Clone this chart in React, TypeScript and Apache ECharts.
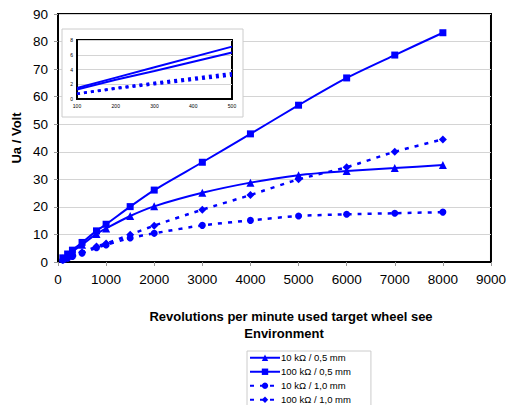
import React, { useEffect, useRef } from "react";
import * as echarts from "echarts";

const rpm = [100, 200, 300, 500, 800, 1000, 1500, 2000, 3000, 4000, 5000, 6000, 7000, 8000];
const r10k05 = [1.3, 2.6, 3.8, 6.3, 10.2, 12.2, 16.7, 20.2, 25.1, 28.8, 31.5, 33.0, 34.1, 35.2];
const r100k05 = [1.5, 2.9, 4.3, 7.1, 11.3, 13.7, 20.1, 26.1, 36.2, 46.5, 56.9, 66.8, 75.1, 83.2];
const r10k10 = [0.7, 1.4, 2.0, 3.2, 5.2, 6.2, 8.7, 10.4, 13.3, 15.1, 16.7, 17.3, 17.7, 18.1];
const r100k10 = [0.7, 1.5, 2.2, 3.5, 5.6, 6.7, 9.9, 13.2, 19.0, 24.3, 30.0, 34.4, 40.0, 44.5];

const seriesNames = ["10 kΩ / 0,5 mm", "100 kΩ / 0,5 mm", "10 kΩ / 1,0 mm", "100 kΩ / 1,0 mm"];
const seriesValues = [r10k05, r100k05, r10k10, r100k10];
const symbols = ["triangle", "rect", "circle", "diamond"];
const symbolSizes = [8, 7, 7, 8];
const dashed = [false, false, true, true];

const xTitle1 = "Revolutions per minute used target wheel see";
const xTitle2 = "Environment";
const yTitle = "Ua / Volt";

const BLUE = "#0000FF";
const FONT = "Liberation Sans, Arial, sans-serif";

const plain = (v: number) => String(v);

export default function App() {
  const ref = useRef<HTMLDivElement>(null);
  useEffect(() => {
    document.body.style.margin = "0";
    if (!ref.current) return;
    const chart = echarts.init(ref.current, undefined, { renderer: "svg" });

    const mainSeries = seriesNames.map((name, i) => ({
      name,
      type: "line",
      xAxisIndex: 0,
      yAxisIndex: 0,
      data: rpm.map((x, j) => [x, seriesValues[i][j]]),
      symbol: symbols[i],
      symbolSize: symbolSizes[i],
      smooth: 0.25,
      itemStyle: { color: BLUE },
      lineStyle: dashed[i]
        ? { color: BLUE, width: 2.5, type: [4, 6] }
        : { color: BLUE, width: 2 },
      z: 3,
    }));

    const insetSeries = seriesNames.map((name, i) => ({
      name: "inset " + name,
      type: "line",
      xAxisIndex: 1,
      yAxisIndex: 1,
      data: rpm
        .map((x, j) => [x, seriesValues[i][j]])
        .filter((p) => p[0] <= 500),
      symbol: "none",
      smooth: false,
      lineStyle: dashed[i]
        ? { color: BLUE, width: 2.5, type: [3, 4] }
        : { color: BLUE, width: 2 },
      z: 12,
    }));

    chart.setOption({
      animation: false,
      backgroundColor: "#fff",
      textStyle: { fontFamily: FONT },
      grid: [
        {
          left: 58,
          top: 14,
          right: 16,
          bottom: 143,
          show: true,
          borderColor: "#000",
          borderWidth: 2,
          z: 0,
        },
        {
          left: 77,
          top: 40,
          right: 277,
          bottom: 306,
          show: true,
          borderColor: "#000",
          borderWidth: 2,
          backgroundColor: "#fff",
          z: 11,
        },
      ],
      xAxis: [
        {
          type: "value",
          gridIndex: 0,
          min: 0,
          max: 9000,
          interval: 1000,
          axisLine: { show: true, lineStyle: { color: "#000", width: 2 } },
          axisTick: { show: true, length: 4, lineStyle: { color: "#999" } },
          axisLabel: { color: "#000", fontSize: 13.5, margin: 10, fontFamily: FONT, formatter: plain },
          splitLine: { show: false },
        },
        {
          type: "value",
          gridIndex: 1,
          min: 100,
          max: 500,
          interval: 100,
          axisLine: { show: true, lineStyle: { color: "#000", width: 2 } },
          axisTick: { show: false },
          axisLabel: { color: "#000", fontSize: 5, margin: 4, fontFamily: FONT, formatter: plain },
          splitLine: { show: false },
          z: 12,
        },
      ],
      yAxis: [
        {
          type: "value",
          gridIndex: 0,
          min: 0,
          max: 90,
          interval: 10,
          axisLine: { show: true, lineStyle: { color: "#000", width: 2 } },
          axisTick: { show: true, length: 4, lineStyle: { color: "#999" } },
          axisLabel: { color: "#000", fontSize: 13.5, margin: 10, fontFamily: FONT, formatter: plain },
          splitLine: { show: true, lineStyle: { color: "#d4d4d4", width: 1 } },
        },
        {
          type: "value",
          gridIndex: 1,
          min: 0,
          max: 8,
          interval: 2,
          axisLine: { show: true, lineStyle: { color: "#000", width: 2 } },
          axisTick: { show: false },
          axisLabel: { color: "#000", fontSize: 5, margin: 4, fontFamily: FONT, formatter: plain },
          splitLine: { show: true, lineStyle: { color: "#d4d4d4", width: 1 } },
          z: 12,
        },
      ],
      legend: {
        data: seriesNames,
        orient: "vertical",
        left: 247,
        top: 351,
        width: 110,
        height: 90,
        itemWidth: 30,
        itemHeight: 8,
        itemGap: 3.5,
        padding: [1.5, 20, 4, 2],
        backgroundColor: "#fff",
        borderColor: "#cccccc",
        borderWidth: 1,
        borderRadius: 0,
        textStyle: { color: "#000", fontSize: 9.5, fontFamily: FONT, lineHeight: 10.5, padding: [0, 0, 0, -4] },
      },
      graphic: [
        {
          type: "rect",
          shape: { x: 62, y: 29, width: 181, height: 88 },
          style: { fill: "#fff", stroke: "#cccccc", lineWidth: 1 },
          z: 10,
        },
        {
          type: "text",
          x: 16,
          y: 138,
          rotation: Math.PI / 2,
          style: {
            text: yTitle,
            fill: "#000",
            font: "bold 13px " + FONT,
            align: "center",
            verticalAlign: "middle",
          },
        },
        {
          type: "text",
          x: 291,
          y: 316,
          style: {
            text: xTitle1,
            fill: "#000",
            font: "bold 13px " + FONT,
            align: "center",
            verticalAlign: "middle",
          },
        },
        {
          type: "text",
          x: 284,
          y: 333,
          style: {
            text: xTitle2,
            fill: "#000",
            font: "bold 13px " + FONT,
            align: "center",
            verticalAlign: "middle",
          },
        },
      ],
      series: [...mainSeries, ...insetSeries],
    });
    return () => chart.dispose();
  }, []);
  return <div ref={ref} style={{ width: 509, height: 405 }} />;
}
